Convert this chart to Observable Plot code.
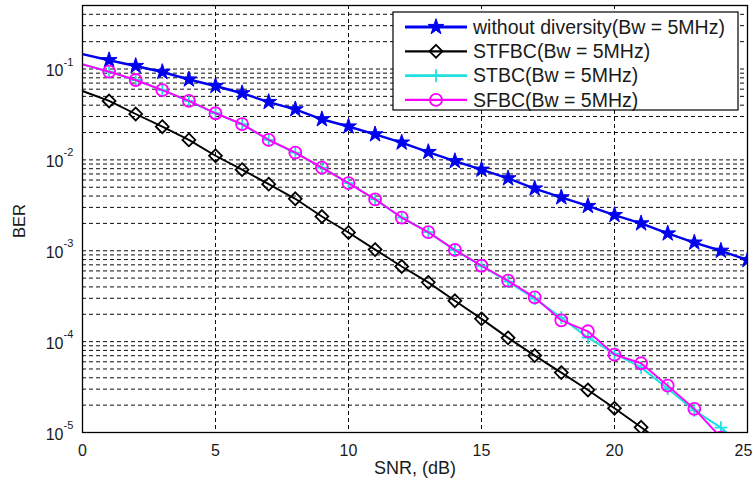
<!DOCTYPE html>
<html><head><meta charset="utf-8">
<script src="https://cdn.jsdelivr.net/npm/d3@7"></script>
<script src="https://cdn.jsdelivr.net/npm/@observablehq/plot@0.6"></script>
<style>
body{margin:0;background:#fff;}
#wrap{position:relative;width:753px;height:481px;font-family:"Liberation Sans",Arial,sans-serif;}
#wrap svg.legend{position:absolute;left:0;top:0;pointer-events:none;}
</style>
</head><body><div id="wrap"></div>
<script>
// ---- data ----
const snr = [0,1,2,3,4,5,6,7,8,9,10,11,12,13,14,15,16,17,18,19,20,21,22,23,24,25];
const berNoDiv = [0.146,0.125,0.108,0.0927,0.0767,0.0650,0.0541,0.0433,0.0360,0.0280,0.0233,0.0191,0.0155,0.0122,0.00969,0.00780,0.00627,0.00484,0.00387,0.00311,0.00247,0.00200,0.00155,0.00123,0.00100,0.00079];
const berSTFBC = [0.0573,0.0445,0.0320,0.0232,0.0166,0.0111,0.00781,0.00541,0.00373,0.00238,0.00159,0.00103,6.72e-4,4.49e-4,2.82e-4,1.78e-4,1.10e-4,7.02e-5,4.56e-5,2.94e-5,1.85e-5,1.14e-5,7.0e-6,null,null,null];
const berSTBC = [0.1127,0.0934,0.0757,0.0587,0.0445,0.0326,0.0247,0.0166,0.0120,0.00822,0.00555,0.00368,0.00232,0.00160,0.00102,6.84e-4,4.57e-4,2.97e-4,1.84e-4,1.11e-4,7.38e-5,5.22e-5,3.05e-5,1.75e-5,1.13e-5,6.3e-6];
const berSFBC = [0.1127,0.0934,0.0757,0.0587,0.0445,0.0326,0.0247,0.0166,0.0120,0.00822,0.00555,0.00368,0.00232,0.00160,0.00102,6.84e-4,4.68e-4,3.07e-4,1.71e-4,1.30e-4,7.19e-5,5.78e-5,3.28e-5,1.82e-5,8.8e-6,null];
const seriesNames = ["without diversity(Bw = 5MHz)","STFBC(Bw = 5MHz)","STBC(Bw = 5MHz)","SFBC(Bw = 5MHz)"];
const xTicks = [0,5,10,15,20,25];
const xGrid = [5,10,15,20];
const yDecades = [1e-5,1e-4,1e-3,1e-2,1e-1];
const yExponents = ["-5","-4","-3","-2","-1"];
const xLabel = "SNR, (dB)";
const yLabel = "BER";

// ---- styles ----
const styles = [
  {name: seriesNames[0], data: berNoDiv, color: "#0000f0", width: 2.4, symbol: "star", r: 5, filled: true},
  {name: seriesNames[1], data: berSTFBC, color: "#000000", width: 1.9, symbol: "diamond2", r: 5.8, filled: false},
  {name: seriesNames[2], data: berSTBC, color: "#22e0e0", width: 2.2, symbol: "plus", r: 4.2, filled: false},
  {name: seriesNames[3], data: berSFBC, color: "#ff00ff", width: 1.9, symbol: "circle", r: 6, filled: false}
];

const rows = styles.map(s => snr.map((x, i) => ({snr: x, ber: s.data[i], series: s.name})).filter(d => d.ber != null));

const yMinor = [];
for (const d of yDecades) for (let k = 1; k <= 9; k++) { const v = d * k; if (v > 1e-5 && v <= 0.5) yMinor.push(v); }

const W = 753, H = 481, mL = 82, mR = 6, mT = 5, mB = 49;
const ink = "#1a1a1a";

const marks = [
  Plot.ruleY(yMinor, {stroke: "#000", strokeWidth: 1, strokeDasharray: "4,3", strokeOpacity: 0.95}),
  Plot.ruleX(xGrid, {stroke: "#000", strokeWidth: 1, strokeDasharray: "4,3", strokeOpacity: 0.95}),
];
styles.forEach((s, k) => {
  marks.push(Plot.line(rows[k], {x: "snr", y: "ber", stroke: s.color, strokeWidth: s.width, clip: true}));
  marks.push(Plot.dot(rows[k].filter(d => d.snr > 0), {x: "snr", y: "ber", symbol: () => s.symbol, r: s.r,
    fill: s.filled ? s.color : "none", stroke: s.color, strokeWidth: s.filled ? 1 : 1.8, clip: true}));
});
marks.push(
  Plot.frame({stroke: "#000", strokeWidth: 1.3}),
  Plot.axisX(xTicks.slice(0, -1), {tickSize: 0, tickPadding: 12, fontSize: 16, label: null, tickFormat: d => String(d), fill: ink}),
  Plot.axisX(xTicks.slice(-1), {tickSize: 0, tickPadding: 12, fontSize: 16, label: null, tickFormat: d => String(d), fill: ink, dx: -4}),
  Plot.text(yDecades, {y: d => d, frameAnchor: "left", text: () => "10", textAnchor: "end", dx: -19, dy: 2, fontSize: 16, fill: ink}),
  Plot.text(yDecades, {y: d => d, frameAnchor: "left", text: (d, i) => yExponents[i], textAnchor: "start", dx: -19, dy: -7, fontSize: 11, fill: ink}),
  Plot.text([xLabel], {frameAnchor: "bottom", text: d => d, lineAnchor: "middle", dy: 36, fontSize: 18, fill: ink}),
  Plot.text([yLabel], {frameAnchor: "left", text: d => d, textAnchor: "middle", lineAnchor: "middle", dx: -63, dy: 2, rotate: -90, fontSize: 16.5, fill: ink})
);

const chart = Plot.plot({
  width: W, height: H,
  marginLeft: mL, marginRight: mR, marginTop: mT, marginBottom: mB,
  style: {fontFamily: '"Liberation Sans", Arial, sans-serif', background: "#fff", overflow: "visible"},
  x: {domain: [0, 25]},
  y: {type: "log", domain: [1e-5, 0.5], axis: null},
  symbol: {type: "identity"},
  marks
});
const wrap = document.getElementById("wrap");
wrap.appendChild(chart);

// ---- legend overlay (drawn with d3) ----
const lg = d3.select(wrap).append("svg").attr("class", "legend").attr("width", W).attr("height", H)
  .style("font-family", '"Liberation Sans", Arial, sans-serif');
const box = {x: 393, y: 12, w: 345, h: 98};
lg.append("rect").attr("x", box.x).attr("y", box.y).attr("width", box.w).attr("height", box.h)
  .attr("fill", "#fff").attr("stroke", "#000").attr("stroke-width", 1.2);
const symMap = {star: d3.symbolStar, diamond2: d3.symbolDiamond2, plus: d3.symbolPlus, circle: d3.symbolCircle};
styles.forEach((s, i) => {
  const cy = box.y + 15 + i * 24.3;
  const g = lg.append("g");
  g.append("line").attr("x1", box.x + 12).attr("x2", box.x + 74).attr("y1", cy).attr("y2", cy)
    .attr("stroke", s.color).attr("stroke-width", s.width + 0.4);
  g.append("path").attr("transform", `translate(${box.x + 43},${cy})`)
    .attr("d", d3.symbol(symMap[s.symbol], Math.PI * s.r * s.r)())
    .attr("fill", s.filled ? s.color : "none").attr("stroke", s.color).attr("stroke-width", s.filled ? 1 : 1.8);
  g.append("text").attr("x", box.x + 80).attr("y", cy).attr("dy", "0.35em")
    .attr("font-size", 19.5).attr("fill", ink).text(s.name);
});
</script>
</body></html>
